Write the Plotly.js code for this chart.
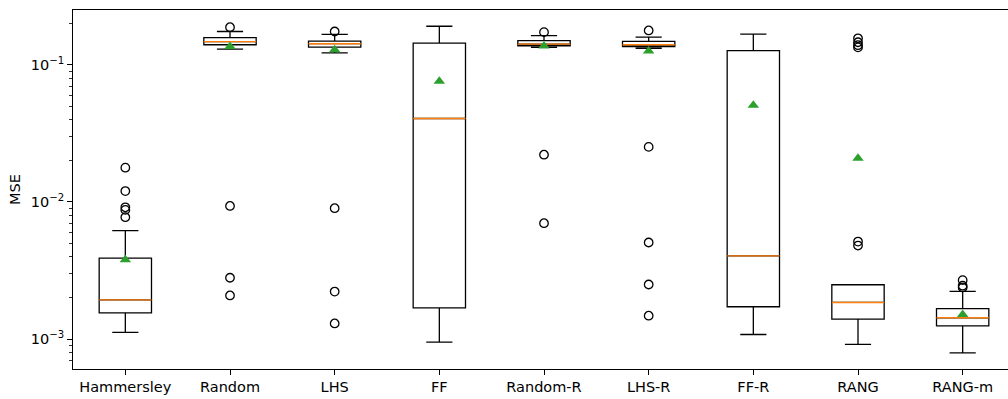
<!DOCTYPE html>
<html>
<head>
<meta charset="utf-8">
<script src="https://cdn.plot.ly/plotly-3.0.1.min.js"></script>
<style>
html,body{margin:0;padding:0;overflow:hidden;background:#fff;width:1008px;height:399px;}
#chart{width:1020px;height:399px;}
</style>
</head>
<body>
<div id="chart"></div>
<script>
// ---- data ----
const categories = ["Hammersley","Random","LHS","FF","Random-R","LHS-R","FF-R","RANG","RANG-m"];
const lowerWhisker = [1.12e-3, 0.130, 0.122, 9.49e-4, 0.134, 0.132, 1.08e-3, 9.16e-4, 7.94e-4];
const q1Values     = [1.55e-3, 0.140, 0.1346, 1.69e-3, 0.1377, 0.136, 1.72e-3, 1.40e-3, 1.25e-3];
const medianValues = [1.93e-3, 0.1475, 0.1425, 0.0406, 0.1416, 0.140, 4.04e-3, 1.85e-3, 1.43e-3];
const q3Values     = [3.89e-3, 0.158, 0.149, 0.144, 0.150, 0.148, 0.127, 2.49e-3, 1.67e-3];
const upperWhisker = [6.18e-3, 0.175, 0.1667, 0.191, 0.163, 0.159, 0.1675, 2.49e-3, 2.23e-3];
const meanValues   = [3.79e-3, 0.136, 0.129, 0.0759, 0.137, 0.126, 0.0507, 0.0208, 1.51e-3];
const outliers = [
  [0.01778, 0.0120, 9.14e-3, 8.75e-3, 7.74e-3],
  [0.188, 9.35e-3, 2.80e-3, 2.08e-3],
  [0.175, 9.0e-3, 2.22e-3, 1.30e-3],
  [],
  [0.173, 0.0221, 7.0e-3],
  [0.178, 0.0252, 5.06e-3, 2.50e-3, 1.48e-3],
  [],
  [0.156, 0.146, 0.139, 0.134, 5.14e-3, 4.81e-3],
  [2.69e-3, 2.45e-3, 2.38e-3]
];
const yTickVals = [1e-3, 1e-2, 1e-1];
const yTickText = ["10<sup>\u22123</sup>", "10<sup>\u22122</sup>", "10<sup>\u22121</sup>"];

// ---- build traces ----
const outX = [], outY = [];
outliers.forEach((arr, i) => arr.forEach(v => { outX.push(categories[i]); outY.push(v); }));

const minorVals = [];
for (let e = -4; e <= 0; e++) for (let m = 2; m <= 9; m++) minorVals.push(m * Math.pow(10, e));

const FONT = "DejaVu Sans";
const FS = 14.5;

const boxTrace = {
  type: "box", x: categories,
  q1: q1Values, median: medianValues, q3: q3Values,
  lowerfence: lowerWhisker, upperfence: upperWhisker,
  boxpoints: false, whiskerwidth: 0.5, width: 0.5,
  line: {color: "#000000", width: 1.3},
  fillcolor: "rgba(0,0,0,0)",
  hoverinfo: "skip", showlegend: false
};
const medianTrace = {
  type: "box", x: categories,
  q1: medianValues, median: medianValues, q3: medianValues,
  lowerfence: medianValues, upperfence: medianValues,
  boxpoints: false, whiskerwidth: 0, width: 0.5,
  line: {color: "#ff7f0e", width: 1.4},
  fillcolor: "rgba(0,0,0,0)",
  hoverinfo: "skip", showlegend: false
};
const outlierTrace = {
  type: "scatter", mode: "markers", x: outX, y: outY,
  marker: {symbol: "circle-open", size: 8.5, color: "#000000", line: {width: 1.3, color: "#000000"}},
  hoverinfo: "skip", showlegend: false
};
const meanTrace = {
  type: "scatter", mode: "markers", x: categories, y: meanValues,
  marker: {symbol: "triangle-up", size: 10, color: "#2ca02c"},
  hoverinfo: "skip", showlegend: false
};

const layout = {
  width: 1020, height: 399,
  margin: {l: 73, r: 5, t: 10, b: 30},
  paper_bgcolor: "#ffffff", plot_bgcolor: "#ffffff",
  font: {family: FONT, size: FS, color: "#000000"},
  boxmode: "overlay", boxgap: 0, boxgroupgap: 0,
  showlegend: false,
  xaxis: {
    type: "category", categoryorder: "array", categoryarray: categories,
    range: [-0.5, 8.5],
    showline: true, mirror: true, linecolor: "#000000", linewidth: 1,
    ticks: "outside", ticklen: 5, tickwidth: 1, tickcolor: "#000000",
    showgrid: false, zeroline: false,
    tickfont: {family: FONT, size: FS}
  },
  yaxis: {
    type: "log",
    range: [Math.log10(6.05e-4), Math.log10(0.251)],
    showline: true, mirror: true, linecolor: "#000000", linewidth: 1,
    ticks: "outside", ticklen: 5, tickwidth: 1, tickcolor: "#000000",
    tickmode: "array", tickvals: yTickVals, ticktext: yTickText,
    minor: {tickmode: "array", tickvals: minorVals, ticks: "outside", ticklen: 3, tickwidth: 0.8, tickcolor: "#000000", showgrid: false},
    showgrid: false, zeroline: false,
    tickfont: {family: FONT, size: FS},
    title: {text: "MSE", font: {family: FONT, size: FS}, standoff: 6}
  }
};

Plotly.newPlot("chart", [boxTrace, medianTrace, outlierTrace, meanTrace], layout, {displayModeBar: false, staticPlot: true});
</script>
</body>
</html>
